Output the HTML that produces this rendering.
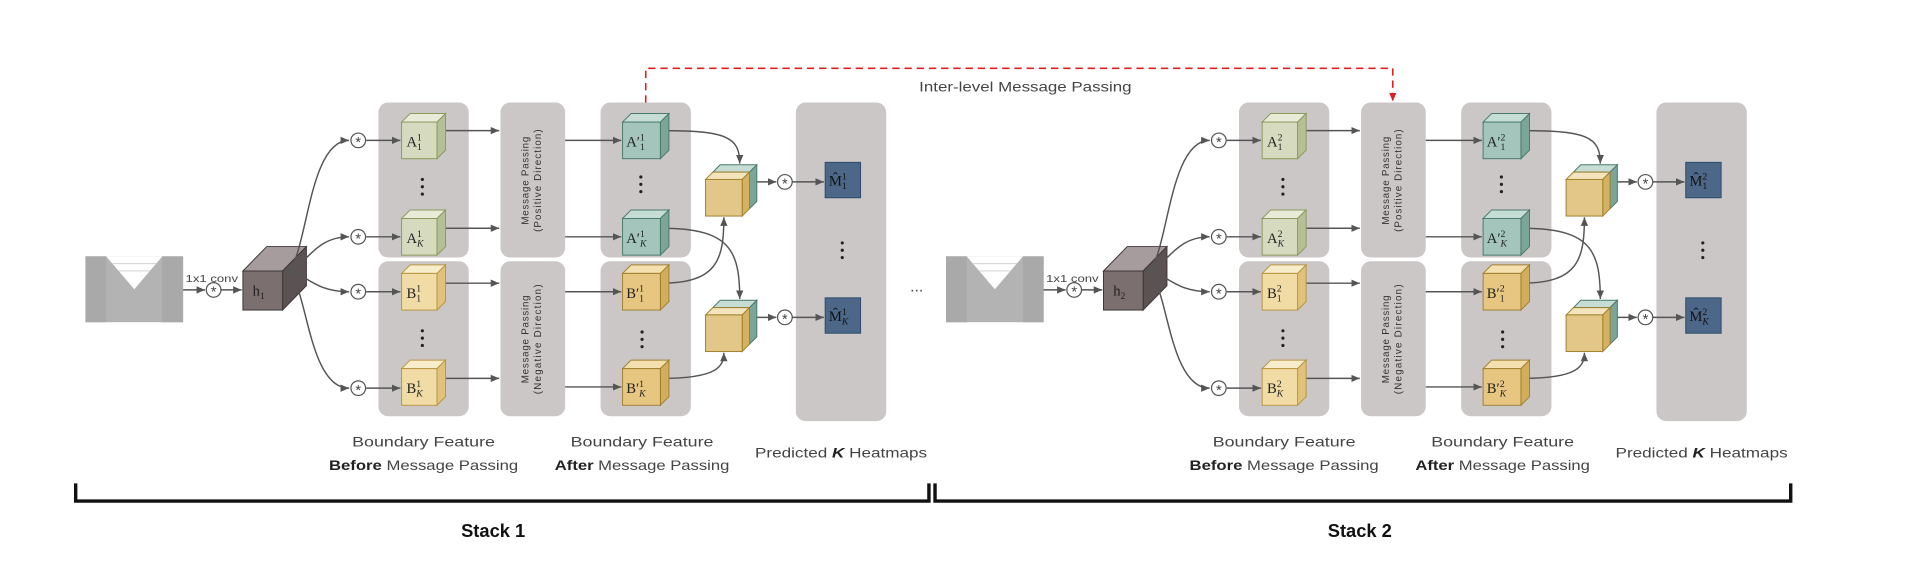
<!DOCTYPE html>
<html><head><meta charset="utf-8"><style>
html,body{margin:0;padding:0;background:#fff;}
svg{display:block;}
.lbl{font-family:"Liberation Sans",sans-serif;fill:#444;}
.cl{font-family:"Liberation Serif",serif;fill:#222;}
.mp{font-family:"Liberation Sans",sans-serif;fill:#333;font-size:8px;}
.st{font-size:12px;text-anchor:middle;fill:#444;font-family:"Liberation Sans",sans-serif;}
</style></head><body>
<svg width="1914" height="582" viewBox="0 0 1568 476.8" preserveAspectRatio="none" xmlns="http://www.w3.org/2000/svg">
<defs>
<marker id="ar" markerWidth="8" markerHeight="8" refX="7" refY="4" orient="auto" markerUnits="userSpaceOnUse"><path d="M0,1 L7,4 L0,7 z" fill="#555"/></marker>
<marker id="rr" markerWidth="8" markerHeight="8" refX="7" refY="4" orient="auto" markerUnits="userSpaceOnUse"><path d="M0,1 L7,4 L0,7 z" fill="#e02020"/></marker>
</defs>

<path d="M529 84 V56 H1141 V83" fill="none" stroke="#e02020" stroke-width="1.3" stroke-dasharray="6 4" marker-end="url(#rr)"/>
<text x="840" y="75" class="lbl" font-size="11" text-anchor="middle" textLength="174" lengthAdjust="spacingAndGlyphs">Inter-level Message Passing</text>

<text x="751" y="239" class="lbl" font-size="13" text-anchor="middle" fill="#222">...</text>

<g>
<rect x="70" y="210" width="80" height="54" fill="#b3b3b3"/>
<rect x="70" y="210" width="17" height="54" fill="#a9a9a9"/>
<rect x="133" y="210" width="17" height="54" fill="#a9a9a9"/>
<polygon points="87,210 133,210 110,237" fill="#fff"/>
<line x1="92" y1="216" x2="128" y2="216" stroke="#ccc" stroke-width="0.7"/>
<line x1="97" y1="222" x2="123" y2="222" stroke="#ccc" stroke-width="0.7"/>
<text x="152" y="231" class="lbl" font-size="8.5" textLength="43" lengthAdjust="spacingAndGlyphs">1x1 conv</text>
<line x1="150" y1="237.5" x2="168" y2="237.5" stroke="#555" stroke-width="1.2" marker-end="url(#ar)"/>
<circle cx="175" cy="237.5" r="6" fill="#fff" stroke="#555" stroke-width="1"/><text x="175" y="243" class="st">*</text>
<line x1="181" y1="237.5" x2="198" y2="237.5" stroke="#555" stroke-width="1.2" marker-end="url(#ar)"/>
<polygon points="199,222 218.5,202 251,202 231.5,222" fill="#a79c9d" stroke="#3d3536" stroke-width="0.8"/>
<polygon points="231.5,222 251,202 251,234 231.5,254" fill="#5c5253" stroke="#3d3536" stroke-width="0.8"/>
<rect x="199" y="222" width="32.5" height="32" fill="#7b6f70" stroke="#3d3536" stroke-width="0.8"/>
<text x="207" y="242" class="cl" font-size="12">h<tspan font-size="8" dy="3">1</tspan></text>
<g fill="none" stroke="#555" stroke-width="1.2">
<path d="M233 222 C252 222 250 115 286 115" marker-end="url(#ar)"/>
<path d="M233 222 C250 222 255 194 286 194" marker-end="url(#ar)"/>
<path d="M233 222 C250 222 255 239 286 239" marker-end="url(#ar)"/>
<path d="M233 222 C252 222 250 318 286 318" marker-end="url(#ar)"/>
</g>
<g fill="#fff" stroke="#555" stroke-width="1">
<circle cx="293.5" cy="115" r="6"/><circle cx="293.5" cy="194" r="6"/><circle cx="293.5" cy="239" r="6"/><circle cx="293.5" cy="318" r="6"/>
<circle cx="643" cy="149" r="6"/><circle cx="643" cy="260" r="6"/>
</g>
<g class="st">
<text x="293.5" y="120.5">*</text><text x="293.5" y="199.5">*</text><text x="293.5" y="244.5">*</text><text x="293.5" y="323.5">*</text>
<text x="643" y="154.5">*</text><text x="643" y="265.5">*</text>
</g>
<g fill="#cbc7c7">
<rect x="310" y="84" width="74" height="127" rx="8"/><rect x="310" y="214" width="74" height="127" rx="8"/>
<rect x="410" y="84" width="53" height="127" rx="8"/><rect x="410" y="214" width="53" height="127" rx="8"/>
<rect x="492" y="84" width="74" height="127" rx="8"/><rect x="492" y="214" width="74" height="127" rx="8"/>
<rect x="652" y="84" width="74" height="261" rx="8"/>
</g>
<g stroke="#555" stroke-width="1.2" marker-end="url(#ar)">
<line x1="300" y1="115" x2="328" y2="115"/><line x1="300" y1="194" x2="328" y2="194"/><line x1="300" y1="239" x2="328" y2="239"/><line x1="300" y1="318" x2="328" y2="318"/>
<line x1="365" y1="107" x2="409" y2="107"/><line x1="365" y1="187" x2="409" y2="187"/><line x1="365" y1="232" x2="409" y2="232"/><line x1="365" y1="310" x2="409" y2="310"/>
<line x1="463" y1="115" x2="509" y2="115"/><line x1="463" y1="194" x2="509" y2="194"/><line x1="463" y1="239" x2="509" y2="239"/><line x1="463" y1="317" x2="509" y2="317"/>
<line x1="620" y1="149" x2="636" y2="149"/><line x1="649" y1="149" x2="675" y2="149"/>
<line x1="620" y1="260" x2="636" y2="260"/><line x1="649" y1="260" x2="675" y2="260"/>
</g>
<g fill="none" stroke="#555" stroke-width="1.2" marker-end="url(#ar)">
<path d="M542 107 C595 107 606 112 606 134"/>
<path d="M542 187 C598 187 606 205 606 245"/>
<path d="M542 232 C588 232 593 212 593 178"/>
<path d="M542 310 C588 310 593 300 593 289"/>
</g>
<g stroke="#8a9a5a" stroke-width="0.8">
<polygon points="329,100 336,93 365,93 358,100" fill="#e9ebd9"/><polygon points="358,100 365,93 365,123 358,130" fill="#b6bf95"/><rect x="329" y="100" width="29" height="30" fill="#d6dbc0"/>
<polygon points="329,179 336,172 365,172 358,179" fill="#e9ebd9"/><polygon points="358,179 365,172 365,202 358,209" fill="#b6bf95"/><rect x="329" y="179" width="29" height="30" fill="#d6dbc0"/>
</g>
<g stroke="#b8963e" stroke-width="0.8">
<polygon points="329,224 336,217 365,217 358,224" fill="#f8edcb"/><polygon points="358,224 365,217 365,247 358,254" fill="#e2c27a"/><rect x="329" y="224" width="29" height="30" fill="#f1dca6"/>
<polygon points="329,302 336,295 365,295 358,302" fill="#f8edcb"/><polygon points="358,302 365,295 365,325 358,332" fill="#e2c27a"/><rect x="329" y="302" width="29" height="30" fill="#f1dca6"/>
</g>
<g stroke="#4a7a6c" stroke-width="0.8">
<polygon points="510,100 517,93 548,93 541,100" fill="#c6ddd6"/><polygon points="541,100 548,93 548,123 541,130" fill="#7ba697"/><rect x="510" y="100" width="31" height="30" fill="#a3c5bb"/>
<polygon points="510,179 517,172 548,172 541,179" fill="#c6ddd6"/><polygon points="541,179 548,172 548,202 541,209" fill="#7ba697"/><rect x="510" y="179" width="31" height="30" fill="#a3c5bb"/>
</g>
<g stroke="#a0802e" stroke-width="0.8">
<polygon points="510,224 517,217 548,217 541,224" fill="#f3e0ae"/><polygon points="541,224 548,217 548,247 541,254" fill="#d2ad5c"/><rect x="510" y="224" width="31" height="30" fill="#e6c680"/>
<polygon points="510,302 517,295 548,295 541,302" fill="#f3e0ae"/><polygon points="541,302 548,295 548,325 541,332" fill="#d2ad5c"/><rect x="510" y="302" width="31" height="30" fill="#e6c680"/>
</g>
<g stroke-width="0.8">
<polygon points="584,141 590,135 620,135 614,141" fill="#c6ddd6" stroke="#4a7a6c"/><polygon points="614,141 620,135 620,165 614,171" fill="#7ba697" stroke="#4a7a6c"/>
<polygon points="578,147 584,141 614,141 608,147" fill="#f3e4bb" stroke="#a0802e"/><polygon points="608,147 614,141 614,171 608,177" fill="#d6b260" stroke="#a0802e"/><rect x="578" y="147" width="30" height="30" fill="#e3c788" stroke="#a0802e"/>
<polygon points="584,252 590,246 620,246 614,252" fill="#c6ddd6" stroke="#4a7a6c"/><polygon points="614,252 620,246 620,276 614,282" fill="#7ba697" stroke="#4a7a6c"/>
<polygon points="578,258 584,252 614,252 608,258" fill="#f3e4bb" stroke="#a0802e"/><polygon points="608,258 614,252 614,282 608,288" fill="#d6b260" stroke="#a0802e"/><rect x="578" y="258" width="30" height="30" fill="#e3c788" stroke="#a0802e"/>
</g>
<rect x="676" y="133" width="29" height="29" fill="#4c6787" stroke="#2f4b6b" stroke-width="0.8"/>
<rect x="676" y="244" width="29" height="29" fill="#4c6787" stroke="#2f4b6b" stroke-width="0.8"/>
<g fill="#222">
<circle cx="346" cy="147" r="1.3"/><circle cx="346" cy="153" r="1.3"/><circle cx="346" cy="159" r="1.3"/>
<circle cx="346" cy="271" r="1.3"/><circle cx="346" cy="277" r="1.3"/><circle cx="346" cy="283" r="1.3"/>
<circle cx="525" cy="145" r="1.3"/><circle cx="525" cy="151" r="1.3"/><circle cx="525" cy="157" r="1.3"/>
<circle cx="526" cy="272" r="1.3"/><circle cx="526" cy="278" r="1.3"/><circle cx="526" cy="284" r="1.3"/>
<circle cx="690" cy="199" r="1.3"/><circle cx="690" cy="205" r="1.3"/><circle cx="690" cy="211" r="1.3"/>
</g>
<g class="cl" font-size="12">
<text x="333" y="120">A<tspan font-size="8" dy="-5">1</tspan><tspan font-size="8" dx="-4" dy="8">1</tspan></text>
<text x="333" y="199">A<tspan font-size="8" dy="-5">1</tspan><tspan font-size="8" dx="-4" dy="8" font-style="italic">K</tspan></text>
<text x="333" y="244">B<tspan font-size="8" dy="-5">1</tspan><tspan font-size="8" dx="-4" dy="8">1</tspan></text>
<text x="333" y="322">B<tspan font-size="8" dy="-5">1</tspan><tspan font-size="8" dx="-4" dy="8" font-style="italic">K</tspan></text>
<text x="513" y="120">A′<tspan font-size="8" dy="-5">1</tspan><tspan font-size="8" dx="-4" dy="8">1</tspan></text>
<text x="513" y="199">A′<tspan font-size="8" dy="-5">1</tspan><tspan font-size="8" dx="-4" dy="8" font-style="italic">K</tspan></text>
<text x="513" y="244">B′<tspan font-size="8" dy="-5">1</tspan><tspan font-size="8" dx="-4" dy="8">1</tspan></text>
<text x="513" y="322">B′<tspan font-size="8" dy="-5">1</tspan><tspan font-size="8" dx="-4" dy="8" font-style="italic">K</tspan></text>
<text x="679" y="152" fill="#111">M̂<tspan font-size="8" dy="-5">1</tspan><tspan font-size="8" dx="-4" dy="8">1</tspan></text>
<text x="679" y="263" fill="#111">M̂<tspan font-size="8" dy="-5">1</tspan><tspan font-size="8" dx="-4" dy="8" font-style="italic">K</tspan></text>
</g>
<g class="mp">
<text transform="translate(433,148) rotate(-90)" text-anchor="middle" textLength="72" lengthAdjust="spacing">Message Passing</text>
<text transform="translate(443,148) rotate(-90)" text-anchor="middle" textLength="84" lengthAdjust="spacing">(Positive Direction)</text>
<text transform="translate(433,278) rotate(-90)" text-anchor="middle" textLength="72" lengthAdjust="spacing">Message Passing</text>
<text transform="translate(443,278) rotate(-90)" text-anchor="middle" textLength="90" lengthAdjust="spacing">(Negative Direction)</text>
</g>
<g class="lbl" font-size="11.5" text-anchor="middle">
<text x="347" y="366" textLength="117" lengthAdjust="spacingAndGlyphs">Boundary Feature</text>
<text x="347" y="385" textLength="155" lengthAdjust="spacingAndGlyphs"><tspan font-weight="bold" fill="#222">Before</tspan> Message Passing</text>
<text x="526" y="366" textLength="117" lengthAdjust="spacingAndGlyphs">Boundary Feature</text>
<text x="526" y="385" textLength="143" lengthAdjust="spacingAndGlyphs"><tspan font-weight="bold" fill="#222">After</tspan> Message Passing</text>
<text x="689" y="375" textLength="141" lengthAdjust="spacingAndGlyphs">Predicted <tspan font-weight="bold" font-style="italic" fill="#222">K</tspan> Heatmaps</text>
</g>
</g>

<g transform="translate(705,0)">
<rect x="70" y="210" width="80" height="54" fill="#b3b3b3"/>
<rect x="70" y="210" width="17" height="54" fill="#a9a9a9"/>
<rect x="133" y="210" width="17" height="54" fill="#a9a9a9"/>
<polygon points="87,210 133,210 110,237" fill="#fff"/>
<line x1="92" y1="216" x2="128" y2="216" stroke="#ccc" stroke-width="0.7"/>
<line x1="97" y1="222" x2="123" y2="222" stroke="#ccc" stroke-width="0.7"/>
<text x="152" y="231" class="lbl" font-size="8.5" textLength="43" lengthAdjust="spacingAndGlyphs">1x1 conv</text>
<line x1="150" y1="237.5" x2="168" y2="237.5" stroke="#555" stroke-width="1.2" marker-end="url(#ar)"/>
<circle cx="175" cy="237.5" r="6" fill="#fff" stroke="#555" stroke-width="1"/><text x="175" y="243" class="st">*</text>
<line x1="181" y1="237.5" x2="198" y2="237.5" stroke="#555" stroke-width="1.2" marker-end="url(#ar)"/>
<polygon points="199,222 218.5,202 251,202 231.5,222" fill="#a79c9d" stroke="#3d3536" stroke-width="0.8"/>
<polygon points="231.5,222 251,202 251,234 231.5,254" fill="#5c5253" stroke="#3d3536" stroke-width="0.8"/>
<rect x="199" y="222" width="32.5" height="32" fill="#7b6f70" stroke="#3d3536" stroke-width="0.8"/>
<text x="207" y="242" class="cl" font-size="12">h<tspan font-size="8" dy="3">2</tspan></text>
<g fill="none" stroke="#555" stroke-width="1.2">
<path d="M233 222 C252 222 250 115 286 115" marker-end="url(#ar)"/>
<path d="M233 222 C250 222 255 194 286 194" marker-end="url(#ar)"/>
<path d="M233 222 C250 222 255 239 286 239" marker-end="url(#ar)"/>
<path d="M233 222 C252 222 250 318 286 318" marker-end="url(#ar)"/>
</g>
<g fill="#fff" stroke="#555" stroke-width="1">
<circle cx="293.5" cy="115" r="6"/><circle cx="293.5" cy="194" r="6"/><circle cx="293.5" cy="239" r="6"/><circle cx="293.5" cy="318" r="6"/>
<circle cx="643" cy="149" r="6"/><circle cx="643" cy="260" r="6"/>
</g>
<g class="st">
<text x="293.5" y="120.5">*</text><text x="293.5" y="199.5">*</text><text x="293.5" y="244.5">*</text><text x="293.5" y="323.5">*</text>
<text x="643" y="154.5">*</text><text x="643" y="265.5">*</text>
</g>
<g fill="#cbc7c7">
<rect x="310" y="84" width="74" height="127" rx="8"/><rect x="310" y="214" width="74" height="127" rx="8"/>
<rect x="410" y="84" width="53" height="127" rx="8"/><rect x="410" y="214" width="53" height="127" rx="8"/>
<rect x="492" y="84" width="74" height="127" rx="8"/><rect x="492" y="214" width="74" height="127" rx="8"/>
<rect x="652" y="84" width="74" height="261" rx="8"/>
</g>
<g stroke="#555" stroke-width="1.2" marker-end="url(#ar)">
<line x1="300" y1="115" x2="328" y2="115"/><line x1="300" y1="194" x2="328" y2="194"/><line x1="300" y1="239" x2="328" y2="239"/><line x1="300" y1="318" x2="328" y2="318"/>
<line x1="365" y1="107" x2="409" y2="107"/><line x1="365" y1="187" x2="409" y2="187"/><line x1="365" y1="232" x2="409" y2="232"/><line x1="365" y1="310" x2="409" y2="310"/>
<line x1="463" y1="115" x2="509" y2="115"/><line x1="463" y1="194" x2="509" y2="194"/><line x1="463" y1="239" x2="509" y2="239"/><line x1="463" y1="317" x2="509" y2="317"/>
<line x1="620" y1="149" x2="636" y2="149"/><line x1="649" y1="149" x2="675" y2="149"/>
<line x1="620" y1="260" x2="636" y2="260"/><line x1="649" y1="260" x2="675" y2="260"/>
</g>
<g fill="none" stroke="#555" stroke-width="1.2" marker-end="url(#ar)">
<path d="M542 107 C595 107 606 112 606 134"/>
<path d="M542 187 C598 187 606 205 606 245"/>
<path d="M542 232 C588 232 593 212 593 178"/>
<path d="M542 310 C588 310 593 300 593 289"/>
</g>
<g stroke="#8a9a5a" stroke-width="0.8">
<polygon points="329,100 336,93 365,93 358,100" fill="#e9ebd9"/><polygon points="358,100 365,93 365,123 358,130" fill="#b6bf95"/><rect x="329" y="100" width="29" height="30" fill="#d6dbc0"/>
<polygon points="329,179 336,172 365,172 358,179" fill="#e9ebd9"/><polygon points="358,179 365,172 365,202 358,209" fill="#b6bf95"/><rect x="329" y="179" width="29" height="30" fill="#d6dbc0"/>
</g>
<g stroke="#b8963e" stroke-width="0.8">
<polygon points="329,224 336,217 365,217 358,224" fill="#f8edcb"/><polygon points="358,224 365,217 365,247 358,254" fill="#e2c27a"/><rect x="329" y="224" width="29" height="30" fill="#f1dca6"/>
<polygon points="329,302 336,295 365,295 358,302" fill="#f8edcb"/><polygon points="358,302 365,295 365,325 358,332" fill="#e2c27a"/><rect x="329" y="302" width="29" height="30" fill="#f1dca6"/>
</g>
<g stroke="#4a7a6c" stroke-width="0.8">
<polygon points="510,100 517,93 548,93 541,100" fill="#c6ddd6"/><polygon points="541,100 548,93 548,123 541,130" fill="#7ba697"/><rect x="510" y="100" width="31" height="30" fill="#a3c5bb"/>
<polygon points="510,179 517,172 548,172 541,179" fill="#c6ddd6"/><polygon points="541,179 548,172 548,202 541,209" fill="#7ba697"/><rect x="510" y="179" width="31" height="30" fill="#a3c5bb"/>
</g>
<g stroke="#a0802e" stroke-width="0.8">
<polygon points="510,224 517,217 548,217 541,224" fill="#f3e0ae"/><polygon points="541,224 548,217 548,247 541,254" fill="#d2ad5c"/><rect x="510" y="224" width="31" height="30" fill="#e6c680"/>
<polygon points="510,302 517,295 548,295 541,302" fill="#f3e0ae"/><polygon points="541,302 548,295 548,325 541,332" fill="#d2ad5c"/><rect x="510" y="302" width="31" height="30" fill="#e6c680"/>
</g>
<g stroke-width="0.8">
<polygon points="584,141 590,135 620,135 614,141" fill="#c6ddd6" stroke="#4a7a6c"/><polygon points="614,141 620,135 620,165 614,171" fill="#7ba697" stroke="#4a7a6c"/>
<polygon points="578,147 584,141 614,141 608,147" fill="#f3e4bb" stroke="#a0802e"/><polygon points="608,147 614,141 614,171 608,177" fill="#d6b260" stroke="#a0802e"/><rect x="578" y="147" width="30" height="30" fill="#e3c788" stroke="#a0802e"/>
<polygon points="584,252 590,246 620,246 614,252" fill="#c6ddd6" stroke="#4a7a6c"/><polygon points="614,252 620,246 620,276 614,282" fill="#7ba697" stroke="#4a7a6c"/>
<polygon points="578,258 584,252 614,252 608,258" fill="#f3e4bb" stroke="#a0802e"/><polygon points="608,258 614,252 614,282 608,288" fill="#d6b260" stroke="#a0802e"/><rect x="578" y="258" width="30" height="30" fill="#e3c788" stroke="#a0802e"/>
</g>
<rect x="676" y="133" width="29" height="29" fill="#4c6787" stroke="#2f4b6b" stroke-width="0.8"/>
<rect x="676" y="244" width="29" height="29" fill="#4c6787" stroke="#2f4b6b" stroke-width="0.8"/>
<g fill="#222">
<circle cx="346" cy="147" r="1.3"/><circle cx="346" cy="153" r="1.3"/><circle cx="346" cy="159" r="1.3"/>
<circle cx="346" cy="271" r="1.3"/><circle cx="346" cy="277" r="1.3"/><circle cx="346" cy="283" r="1.3"/>
<circle cx="525" cy="145" r="1.3"/><circle cx="525" cy="151" r="1.3"/><circle cx="525" cy="157" r="1.3"/>
<circle cx="526" cy="272" r="1.3"/><circle cx="526" cy="278" r="1.3"/><circle cx="526" cy="284" r="1.3"/>
<circle cx="690" cy="199" r="1.3"/><circle cx="690" cy="205" r="1.3"/><circle cx="690" cy="211" r="1.3"/>
</g>
<g class="cl" font-size="12">
<text x="333" y="120">A<tspan font-size="8" dy="-5">2</tspan><tspan font-size="8" dx="-4" dy="8">1</tspan></text>
<text x="333" y="199">A<tspan font-size="8" dy="-5">2</tspan><tspan font-size="8" dx="-4" dy="8" font-style="italic">K</tspan></text>
<text x="333" y="244">B<tspan font-size="8" dy="-5">2</tspan><tspan font-size="8" dx="-4" dy="8">1</tspan></text>
<text x="333" y="322">B<tspan font-size="8" dy="-5">2</tspan><tspan font-size="8" dx="-4" dy="8" font-style="italic">K</tspan></text>
<text x="513" y="120">A′<tspan font-size="8" dy="-5">2</tspan><tspan font-size="8" dx="-4" dy="8">1</tspan></text>
<text x="513" y="199">A′<tspan font-size="8" dy="-5">2</tspan><tspan font-size="8" dx="-4" dy="8" font-style="italic">K</tspan></text>
<text x="513" y="244">B′<tspan font-size="8" dy="-5">2</tspan><tspan font-size="8" dx="-4" dy="8">1</tspan></text>
<text x="513" y="322">B′<tspan font-size="8" dy="-5">2</tspan><tspan font-size="8" dx="-4" dy="8" font-style="italic">K</tspan></text>
<text x="679" y="152" fill="#111">M̂<tspan font-size="8" dy="-5">2</tspan><tspan font-size="8" dx="-4" dy="8">1</tspan></text>
<text x="679" y="263" fill="#111">M̂<tspan font-size="8" dy="-5">2</tspan><tspan font-size="8" dx="-4" dy="8" font-style="italic">K</tspan></text>
</g>
<g class="mp">
<text transform="translate(433,148) rotate(-90)" text-anchor="middle" textLength="72" lengthAdjust="spacing">Message Passing</text>
<text transform="translate(443,148) rotate(-90)" text-anchor="middle" textLength="84" lengthAdjust="spacing">(Positive Direction)</text>
<text transform="translate(433,278) rotate(-90)" text-anchor="middle" textLength="72" lengthAdjust="spacing">Message Passing</text>
<text transform="translate(443,278) rotate(-90)" text-anchor="middle" textLength="90" lengthAdjust="spacing">(Negative Direction)</text>
</g>
<g class="lbl" font-size="11.5" text-anchor="middle">
<text x="347" y="366" textLength="117" lengthAdjust="spacingAndGlyphs">Boundary Feature</text>
<text x="347" y="385" textLength="155" lengthAdjust="spacingAndGlyphs"><tspan font-weight="bold" fill="#222">Before</tspan> Message Passing</text>
<text x="526" y="366" textLength="117" lengthAdjust="spacingAndGlyphs">Boundary Feature</text>
<text x="526" y="385" textLength="143" lengthAdjust="spacingAndGlyphs"><tspan font-weight="bold" fill="#222">After</tspan> Message Passing</text>
<text x="689" y="375" textLength="141" lengthAdjust="spacingAndGlyphs">Predicted <tspan font-weight="bold" font-style="italic" fill="#222">K</tspan> Heatmaps</text>
</g>
</g>

<path d="M62 396 V410.5 H761 V396" fill="none" stroke="#111" stroke-width="2.8"/>
<path d="M766 396 V410.5 H1467 V396" fill="none" stroke="#111" stroke-width="2.8"/>
<text x="404" y="440" font-family="Liberation Sans,sans-serif" font-weight="bold" font-size="15" text-anchor="middle" fill="#111">Stack 1</text>
<text x="1114" y="440" font-family="Liberation Sans,sans-serif" font-weight="bold" font-size="15" text-anchor="middle" fill="#111">Stack 2</text>
</svg>
</body></html>
